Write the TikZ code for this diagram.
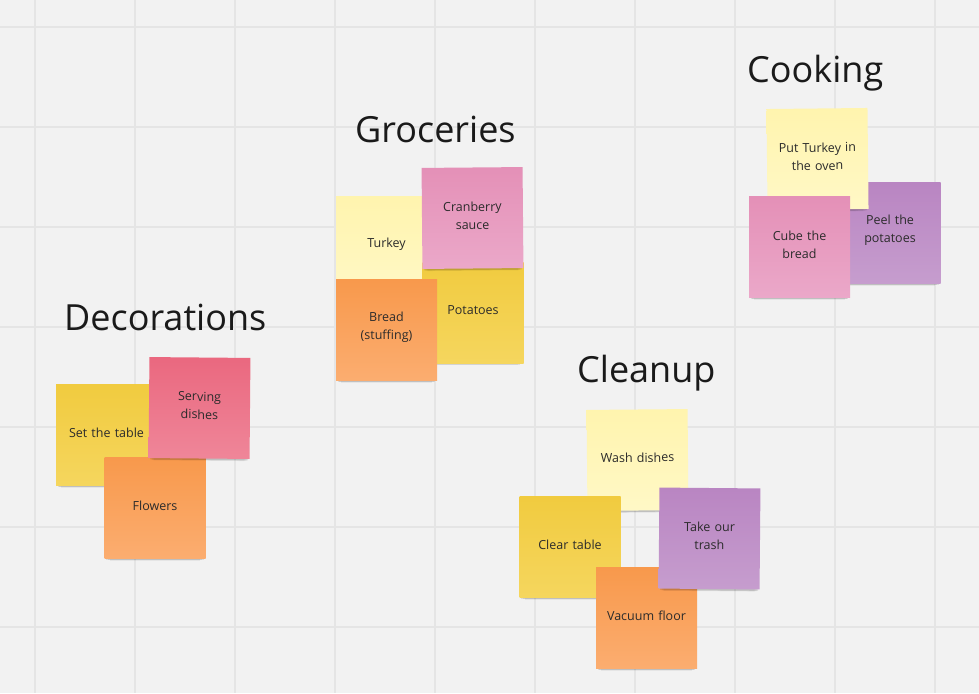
\documentclass[tikz,border=0pt]{standalone}
\usepackage{fontspec}
\setmainfont{Open Sans}
\usetikzlibrary{shadows}
\definecolor{bg}{HTML}{F2F2F2}
\definecolor{gridc}{HTML}{E5E5E5}
\definecolor{txt}{HTML}{2B2B2B}
\definecolor{ttl}{HTML}{1A1A1A}
\definecolor{yelT}{HTML}{F1CB3F}
\definecolor{yelB}{HTML}{F5D65E}
\definecolor{ltyT}{HTML}{FFF4AE}
\definecolor{ltyB}{HTML}{FFF8C6}
\definecolor{orgT}{HTML}{F8994C}
\definecolor{orgB}{HTML}{FBAD70}
\definecolor{redT}{HTML}{EA687F}
\definecolor{redB}{HTML}{EF8699}
\definecolor{pnkT}{HTML}{E490B7}
\definecolor{pnkB}{HTML}{EBA8C9}
\definecolor{purT}{HTML}{B985C2}
\definecolor{purB}{HTML}{C69DCE}
\tikzset{
  gridline/.style={draw=gridc, line width=1.5pt},
  title/.style={anchor=base west, inner sep=0pt, text=ttl, font=\fontsize{36}{40}\selectfont},
  note/.style={minimum width=101pt, minimum height=101pt, inner sep=0pt,
    text width=92pt, align=center, text=txt, font=\fontsize{12.5}{18}\selectfont,
    execute at end node={\par\vspace*{5pt}},
    general shadow={fill=black, opacity=0.05, shadow yshift=-8pt, shadow scale=0.9},
    general shadow={fill=black, opacity=0.08, shadow yshift=-5pt, shadow scale=0.94},
    general shadow={fill=black, opacity=0.09, shadow yshift=-3pt, shadow scale=0.97}},
  yellow/.style={note, top color=yelT, bottom color=yelB},
  ltyellow/.style={note, top color=ltyT, bottom color=ltyB},
  orange/.style={note, top color=orgT, bottom color=orgB},
  red/.style={note, top color=redT, bottom color=redB},
  pink/.style={note, top color=pnkT, bottom color=pnkB},
  purple/.style={note, top color=purT, bottom color=purB}
}
\begin{document}
\begin{tikzpicture}[x=1pt, y=-1pt]
\fill[bg] (0,0) rectangle (979,693);
\useasboundingbox (0,0) rectangle (979,693);
\foreach \x in {35,135,...,935} \draw[gridline] (\x,0) -- (\x,693);
\foreach \y in {27,127,...,627} \draw[gridline] (0,\y) -- (979,\y);

% titles
\node[title] (tgro) at (355,142) {Groceries};
\node[title] (tdec) at (64,330) {Decorations};
\node[title] (tcle) at (577,382) {Cleanup};
\node[title] (tcoo) at (747,82) {Cooking};

% Decorations
\node[yellow] (settable) at (106.5,435) {Set the table};
\node[orange] (flowers) at (155,508) {Flowers};
\node[red, rotate=-0.5] (serving) at (199.5,408) {Serving\\dishes};

% Groceries
\node[ltyellow] (turkey) at (386.5,246.5) {Turkey};
\node[yellow] (potatoes) at (473,312.5) {Potatoes};
\node[pink, rotate=0.5] (cranberry) at (472.5,218) {Cranberry\\sauce};
\node[orange] (bread) at (386.5,330) {Bread\\(stuffing)};

% Cleanup
\node[ltyellow, rotate=0.5] (wash) at (637.5,460) {Wash dishes};
\node[yellow] (clear) at (570,547) {Clear table};
\node[orange] (vacuum) at (646.5,618) {Vacuum floor};
\node[purple, rotate=-0.5] (trash) at (709.5,538.5) {Take our\\trash};

% Cooking
\node[purple] (peel) at (890,233) {Peel the\\potatoes};
\node[ltyellow, rotate=0.6] (putturkey) at (817.5,159) {Put Turkey in\\the oven};
\node[pink] (cube) at (799.5,247) {Cube the\\bread};
\end{tikzpicture}
\end{document}
